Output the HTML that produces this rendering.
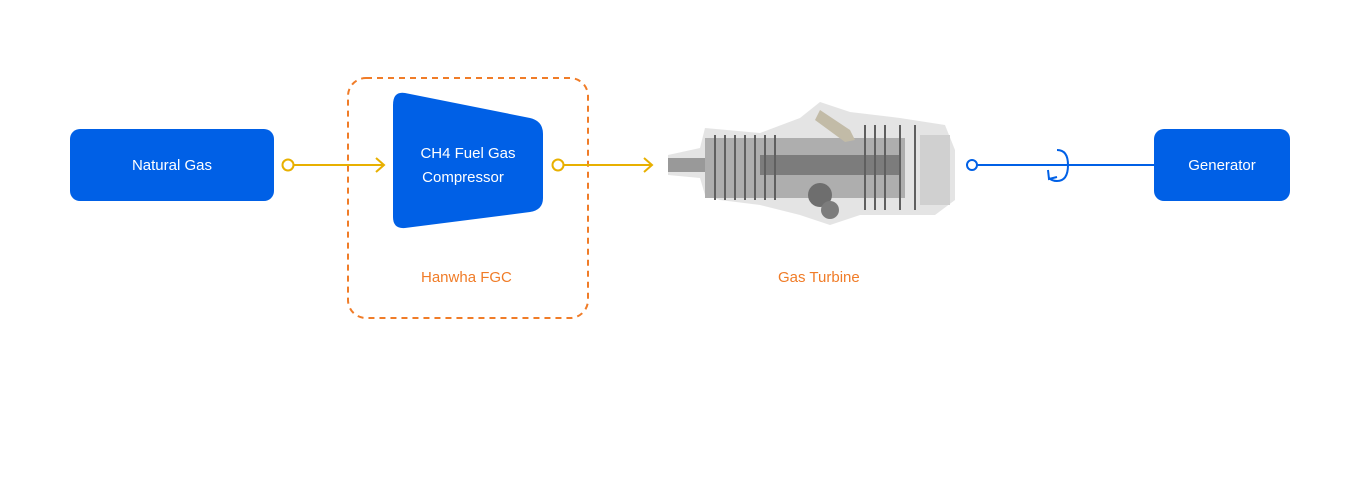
<!DOCTYPE html>
<html><head><meta charset="utf-8"><style>
html,body{margin:0;padding:0;background:#fff;width:1360px;height:480px;overflow:hidden;font-family:"Liberation Sans",sans-serif}
.box{position:absolute;background:#0060e6;color:#fff;border-radius:10px;display:flex;align-items:center;justify-content:center;font-size:15px}
.lbl{position:absolute;color:#f07c28;font-size:15px}
</style></head><body>
<div class="box" style="left:70px;top:129px;width:204px;height:72px">Natural Gas</div>
<div class="box" style="left:1154px;top:129px;width:136px;height:72px">Generator</div>
<svg width="1360" height="480" style="position:absolute;left:0;top:0">
<rect x="348" y="78" width="240" height="240" rx="18" fill="none" stroke="#f07c28" stroke-width="2" stroke-dasharray="6,5"/>
<path d="M405 93 L530 118 Q543 121 543 134 L543 198 Q543 210 530 212 L405 228 Q393 229 393 217 L393 105 Q393 91 405 93 Z" fill="#0060e6"/>
<text x="468" y="158" fill="#fff" font-size="15" text-anchor="middle" font-family="Liberation Sans,sans-serif">CH4 Fuel Gas</text>
<text x="463" y="182" fill="#fff" font-size="15" text-anchor="middle" font-family="Liberation Sans,sans-serif">Compressor</text>
<g stroke="#e8b000" stroke-width="2" fill="none">
<circle cx="288" cy="165" r="5.5" fill="#fff"/><line x1="294" y1="165" x2="384" y2="165"/><path d="M376 158 L384 165 L376 172"/>
<circle cx="558" cy="165" r="5.5" fill="#fff"/><line x1="564" y1="165" x2="652" y2="165"/><path d="M644 158 L652 165 L644 172"/>
</g>
<g stroke="#0060e6" stroke-width="2" fill="none">
<circle cx="972" cy="165" r="5" fill="#fff"/><line x1="977" y1="165" x2="1154" y2="165"/>
<path d="M1057 150 Q1068 150 1068 165 Q1068 181 1057 181 Q1052 181 1049 178"/>
<path d="M1048 170 L1049 179 L1057 177"/>
</g>
<!-- turbine -->
<g opacity="0.85">
<path d="M668 155 L700 148 L705 128 L760 133 L800 118 L820 102 L850 112 L900 118 L945 125 L955 150 L955 200 L935 215 L860 215 L830 225 L800 215 L760 205 L720 200 L705 195 L700 178 L668 175 Z" fill="#e0e0e0"/>
<rect x="668" y="158" width="40" height="14" fill="#888"/>
<rect x="705" y="138" width="200" height="60" fill="#a0a0a0"/>
<rect x="760" y="155" width="140" height="20" fill="#666"/>
<g stroke="#444" stroke-width="2">
<line x1="715" y1="135" x2="715" y2="200"/><line x1="725" y1="135" x2="725" y2="200"/><line x1="735" y1="135" x2="735" y2="200"/><line x1="745" y1="135" x2="745" y2="200"/><line x1="755" y1="135" x2="755" y2="200"/><line x1="765" y1="135" x2="765" y2="200"/><line x1="775" y1="135" x2="775" y2="200"/>
<line x1="865" y1="125" x2="865" y2="210"/><line x1="875" y1="125" x2="875" y2="210"/><line x1="885" y1="125" x2="885" y2="210"/><line x1="900" y1="125" x2="900" y2="210"/><line x1="915" y1="125" x2="915" y2="210"/>
</g>
<circle cx="820" cy="195" r="12" fill="#555"/><circle cx="830" cy="210" r="9" fill="#666"/>
<path d="M820 110 L850 130 L855 140 L845 142 L815 120 Z" fill="#b8b098"/>
<rect x="920" y="135" width="30" height="70" fill="#c8c8c8"/>
</g>
</svg>
<div class="lbl" style="left:421px;top:269px">Hanwha FGC</div>
<div class="lbl" style="left:778px;top:269px">Gas Turbine</div>
</body></html>
